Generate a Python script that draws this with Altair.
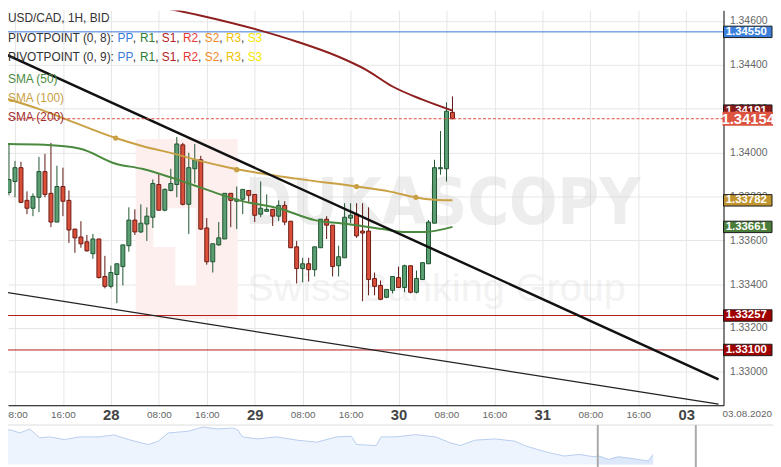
import altair as alt
import pandas as pd

FONT = "Liberation Sans"

# ---------------- candles (hourly, hour index: 24 = 28 Jul 00:00, weekend skipped) -------------
hours = list(range(6, 82))
opens = [1.33881, 1.33818, 1.33868, 1.33931, 1.33782, 1.33746, 1.33796, 1.33913, 1.33814, 1.33683,
         1.33845, 1.33782, 1.33651, 1.33615, 1.33593, 1.33539, 1.33606, 1.33435, 1.33390, 1.33444,
         1.33480, 1.33575, 1.33692, 1.33638, 1.33674, 1.33705, 1.33854, 1.33737, 1.33827, 1.33854,
         1.34035, 1.33764, 1.33926, 1.33967, 1.33656, 1.33502, 1.33579, 1.33606, 1.33814, 1.33778,
         1.33787, 1.33827, 1.33809, 1.33719, 1.33732, 1.33741, 1.33710, 1.33759, 1.33687, 1.33570,
         1.33471, 1.33493, 1.33466, 1.33566, 1.33696, 1.33669, 1.33484, 1.33520, 1.33701, 1.33719,
         1.33642, 1.33642, 1.33426, 1.33394, 1.33340, 1.33372, 1.33430, 1.33385, 1.33484, 1.33363,
         1.33421, 1.33493, 1.33678, 1.33926, 1.33926, 1.34183]
highs = [1.33890, 1.34039, 1.33962, 1.33958, 1.33823, 1.33814, 1.33980, 1.33994, 1.34044, 1.33940,
         1.33931, 1.33827, 1.33651, 1.33687, 1.33624, 1.33629, 1.33606, 1.33529, 1.33484, 1.33493,
         1.33579, 1.33750, 1.33741, 1.33764, 1.33750, 1.33877, 1.33904, 1.33836, 1.33926, 1.34071,
         1.34044, 1.33999, 1.34039, 1.33985, 1.33701, 1.33584, 1.33683, 1.33814, 1.33814, 1.33845,
         1.33832, 1.33827, 1.33809, 1.33868, 1.33809, 1.33741, 1.33782, 1.33778, 1.33687, 1.33597,
         1.33520, 1.33520, 1.33570, 1.33696, 1.33710, 1.33669, 1.33575, 1.33769, 1.33769, 1.33769,
         1.33769, 1.33750, 1.33453, 1.33417, 1.33376, 1.33435, 1.33480, 1.33489, 1.33484, 1.33462,
         1.33498, 1.33692, 1.33967, 1.34098, 1.34229, 1.34256]
lows = [1.33809, 1.33805, 1.33796, 1.33769, 1.33719, 1.33710, 1.33728, 1.33796, 1.33660, 1.33683,
        1.33710, 1.33588, 1.33543, 1.33566, 1.33548, 1.33516, 1.33426, 1.33381, 1.33381, 1.33313,
        1.33394, 1.33548, 1.33624, 1.33633, 1.33597, 1.33656, 1.33737, 1.33732, 1.33823, 1.33796,
        1.33759, 1.33629, 1.33859, 1.33647, 1.33489, 1.33453, 1.33575, 1.33606, 1.33660, 1.33651,
        1.33719, 1.33769, 1.33683, 1.33705, 1.33732, 1.33665, 1.33687, 1.33669, 1.33566, 1.33403,
        1.33408, 1.33412, 1.33435, 1.33566, 1.33606, 1.33435, 1.33435, 1.33520, 1.33678, 1.33611,
        1.33322, 1.33349, 1.33349, 1.33327, 1.33336, 1.33358, 1.33385, 1.33363, 1.33358, 1.33358,
        1.33421, 1.33493, 1.33678, 1.33899, 1.33868, 1.34152]
closes = [1.33818, 1.33877, 1.33931, 1.33773, 1.33746, 1.33800, 1.33913, 1.33809, 1.33683, 1.33845,
          1.33778, 1.33647, 1.33611, 1.33584, 1.33552, 1.33606, 1.33430, 1.33390, 1.33453, 1.33493,
          1.33579, 1.33692, 1.33638, 1.33678, 1.33710, 1.33859, 1.33737, 1.33832, 1.33859, 1.34039,
          1.33764, 1.33931, 1.33967, 1.33651, 1.33502, 1.33584, 1.33611, 1.33814, 1.33782, 1.33787,
          1.33832, 1.33805, 1.33714, 1.33746, 1.33741, 1.33710, 1.33759, 1.33683, 1.33566, 1.33471,
          1.33493, 1.33466, 1.33570, 1.33696, 1.33669, 1.33480, 1.33525, 1.33705, 1.33714, 1.33620,
          1.33633, 1.33421, 1.33390, 1.33331, 1.33376, 1.33435, 1.33385, 1.33484, 1.33363, 1.33426,
          1.33498, 1.33683, 1.33931, 1.33931, 1.34188, 1.34154]

# ---------------- moving averages ----------------
sma50_t = [6.4, 12.9, 18.9, 24.8, 29.2, 34.6, 38.9, 42.7, 45.4, 52.0, 58.0, 63.4, 69.4, 72.7, 76.4, 81.0]
sma50_v = [1.34039, 1.34035, 1.34017, 1.33949, 1.33926, 1.33881, 1.33841, 1.33805, 1.33782, 1.33746,
           1.33692, 1.33674, 1.33651, 1.33638, 1.33638, 1.33661]
sma100_t = [6.4, 11.7, 16.1, 24.8, 29.2, 34.6, 38.9, 43.8, 54.9, 65.0, 70.4, 74.8, 76.9, 81.0]
sma100_v = [1.34247, 1.34201, 1.34156, 1.34066, 1.34030, 1.33994, 1.33962, 1.33931, 1.33881, 1.33845,
            1.33823, 1.33796, 1.33787, 1.33782]
sma100_dot_t = [24.8, 45.0, 65.0, 74.9]
sma100_dot_v = [1.34066, 1.33922, 1.33845, 1.33796]
sma200_t = [21.0, 28.0, 38.9, 48.7, 55.2, 61.7, 66.6, 71.0, 75.9, 81.0]
sma200_v = [1.34720, 1.34684, 1.34625, 1.34558, 1.34504, 1.34440, 1.34377, 1.34301, 1.34242, 1.34191]

# ---------------- trend lines ----------------
trend_thick_t = [6.36, 125.4]
trend_thick_v = [1.34449, 1.32966]
trend_thin_t = [6.36, 125.4]
trend_thin_v = [1.33363, 1.32853]

# ---------------- horizontal levels ----------------
level_vals = [1.34550, 1.33257, 1.33100]
level_cols = ["#3b78d8", "#b51a1a", "#b51a1a"]
current_price = 1.34154

# ---------------- right-side price tags ----------------
tag_vals = [1.34550, 1.34191, 1.33782, 1.33661, 1.33257, 1.33100]
tag_text = ["1.34550", "1.34191", "1.33782", "1.33661", "1.33257", "1.33100"]
tag_fill = ["#3b7fdb", "#8b1a1a", "#c0952f", "#4a7d3a", "#a00000", "#a00000"]

# ---------------- axis ticks ----------------
x_ticks = [8, 16, 24, 32, 40, 48, 56, 64, 72, 80, 88, 96, 104, 112, 120]
day_ticks = [24, 48, 72, 96, 120]
day_labels = ["28", "29", "30", "31", "03"]
y_ticks = [1.330, 1.332, 1.334, 1.336, 1.338, 1.340, 1.342, 1.344, 1.346]

# ---------------- navigator ----------------
nav_day = [0, 0.38, 0.77, 1.15, 1.54, 1.92, 2.5, 3.08, 3.85, 4.42, 5.0, 5.58, 5.77, 6.15, 6.54, 7.31,
           7.88, 8.46, 9.04, 9.23, 9.42, 10.0, 10.77, 11.54, 12.31, 13.08, 13.65, 13.85, 14.62, 14.81,
           15.38, 16.15, 16.92, 17.5, 17.88, 18.46, 19.23, 20.0, 20.38, 20.96, 21.35, 21.92, 22.5,
           23.08, 23.27, 23.65, 24.04, 24.62, 25.19, 25.38]
nav_val = [1.3420, 1.34324, 1.3420, 1.3435, 1.34013, 1.3405, 1.33949, 1.3405, 1.3405, 1.34125,
           1.33949, 1.33799, 1.33761, 1.33889, 1.3420, 1.34264, 1.34425, 1.3435, 1.34388, 1.34324,
           1.3405, 1.33975, 1.3405, 1.33926, 1.33851, 1.3405, 1.34076, 1.33761, 1.33724, 1.3405,
           1.3405, 1.34136, 1.3405, 1.33825, 1.33724, 1.33926, 1.33975, 1.33889, 1.33724, 1.33551,
           1.3345, 1.33326, 1.33386, 1.333, 1.33326, 1.33199, 1.333, 1.33225, 1.33139, 1.33386]
nav_sel = [23.23, 27.04]

# =====================================================================
W, H = 723, 399
xscale = alt.Scale(domain=[7.66, 125.4], nice=False, zero=False)
yscale = alt.Scale(domain=[1.32848, 1.34648], nice=False, zero=False)

expr = "datum.value % 24 == 8 ? '08:00' : datum.value % 24 == 16 ? '16:00' : "
for d, lab in zip(day_ticks, day_labels):
    expr += f"datum.value == {d} ? '{lab}' : "
expr += "''"

xaxis = alt.Axis(values=x_ticks, labelExpr=expr, title=None, grid=True, gridColor="#e6e6e6",
                 domainColor="#000000", domainWidth=1, ticks=False, tickSize=0,
                 labelColor={"condition": {"test": "datum.value % 24 == 0", "value": "#444444"}, "value": "#666666"},
                 labelFontSize={"condition": {"test": "datum.value % 24 == 0", "value": 15}, "value": 10},
                 labelFontWeight={"condition": {"test": "datum.value % 24 == 0", "value": "bold"}, "value": "normal"},
                 labelBaseline="middle", labelPadding=9, labelFlush=False, labelOverlap=False,
                 labelFont=FONT)
yaxis = alt.Axis(orient="right", values=y_ticks, format=".5f", title=None, grid=True,
                 gridColor="#e6e6e6", domainColor="#000000", ticks=False, tickSize=0,
                 labelPadding=6, labelColor="#666666", labelFontSize=10.5, labelFont=FONT,
                 labelOverlap=False)


def X(f):
    return alt.X(f"{f}:Q", scale=xscale, axis=xaxis)


def Y(f):
    return alt.Y(f"{f}:Q", scale=yscale, axis=yaxis)


def one():
    return pd.DataFrame({"a": [0]})


def txt(s, x, y, color, size=12, weight="normal", align="left", baseline="middle", font=FONT, opacity=1.0):
    return alt.Chart(pd.DataFrame({"s": [s]})).mark_text(
        align=align, baseline=baseline, fontSize=size, fontWeight=weight, color=color,
        font=font, opacity=opacity
    ).encode(x=alt.value(x), y=alt.value(y), text="s:N")


def box(x1, x2, y1, y2, color):
    return alt.Chart(one()).mark_rect(color=color).encode(
        x=alt.value(x1), x2=alt.value(x2), y=alt.value(y1), y2=alt.value(y2))


layers = []

# watermark
layers.append(box(129, 232, 130, 312, "#fcefee"))
layers.append(box(147, 190, 200, 239, "#ffffff"))
layers.append(box(169, 190, 239, 278, "#ffffff"))
layers.append(txt("DUKASCOPY", 439, 216, "#d4d4d4", size=64, weight="bold", align="center",
                  baseline="alphabetic", font="Liberation Sans Narrow, DejaVu Sans Condensed", opacity=0.4))
layers.append(txt("Swiss Banking Group", 433, 294, "#d8d8d8", size=40, align="center",
                  baseline="alphabetic", opacity=0.3))

# horizontal levels
lev = pd.DataFrame({"p": level_vals, "col": level_cols})
layers.append(alt.Chart(lev).mark_rule(strokeWidth=1).encode(
    y=Y("p"), color=alt.Color("col:N", scale=None)))

# candles
cdf = pd.DataFrame({"t": hours, "o": opens, "h": highs, "l": lows, "c": closes})
up = "datum.c >= datum.o"
layers.append(alt.Chart(cdf).mark_rule(strokeWidth=1, clip=True).encode(
    x=X("t"), y=Y("l"), y2="h:Q",
    color=alt.condition(up, alt.value("#1f5530"), alt.value("#5e1410"))))
layers.append(alt.Chart(cdf).mark_bar(size=4, strokeWidth=1, clip=True).encode(
    x=X("t"), y=Y("o"), y2="c:Q",
    fill=alt.condition(up, alt.value("#5b9e74"), alt.value("#d94f3a")),
    stroke=alt.condition(up, alt.value("#1f5530"), alt.value("#6e1a12"))))

# moving averages
s50 = pd.DataFrame({"t": sma50_t, "p": sma50_v})
s100 = pd.DataFrame({"t": sma100_t, "p": sma100_v})
s100d = pd.DataFrame({"t": sma100_dot_t, "p": sma100_dot_v})
s200 = pd.DataFrame({"t": sma200_t, "p": sma200_v})
layers.append(alt.Chart(s50).mark_line(color="#4a8a3e", strokeWidth=2, interpolate="monotone", clip=True)
              .encode(x=X("t"), y=Y("p")))
layers.append(alt.Chart(s100).mark_line(color="#c9a043", strokeWidth=2, interpolate="monotone", clip=True)
              .encode(x=X("t"), y=Y("p")))
layers.append(alt.Chart(s100d).mark_point(color="#c9a043", filled=True, size=28, opacity=1, clip=True)
              .encode(x=X("t"), y=Y("p")))
layers.append(alt.Chart(s200).mark_line(color="#8e1f1f", strokeWidth=2, interpolate="monotone", clip=True)
              .encode(x=X("t"), y=Y("p")))

# trend lines
tk = pd.DataFrame({"t": trend_thick_t, "p": trend_thick_v})
tn = pd.DataFrame({"t": trend_thin_t, "p": trend_thin_v})
layers.append(alt.Chart(tk).mark_line(color="#111111", strokeWidth=2.5, clip=True).encode(x=X("t"), y=Y("p")))
layers.append(alt.Chart(tn).mark_line(color="#222222", strokeWidth=1.2, clip=True).encode(x=X("t"), y=Y("p")))

# current price dashed line
layers.append(alt.Chart(pd.DataFrame({"p": [current_price]})).mark_rule(
    color="#e04a3a", strokeWidth=1, strokeDash=[3, 2]).encode(y=Y("p")))

# price tags on the right
HALF = 0.00026
tags = pd.DataFrame({"p": tag_vals, "s": tag_text, "f": tag_fill})
tags["hi"] = tags["p"] + HALF
tags["lo"] = tags["p"] - HALF
layers.append(alt.Chart(tags).mark_rect(stroke="#1a1a1a", strokeWidth=1).encode(
    x=alt.value(723), x2=alt.value(772), y=Y("hi"), y2="lo:Q", fill=alt.Color("f:N", scale=None)))
layers.append(alt.Chart(tags).mark_text(color="white", fontWeight="bold", fontSize=11.5, font=FONT,
                                         align="center", baseline="middle").encode(
    x=alt.value(746), y=Y("p"), text="s:N"))
cur = pd.DataFrame({"p": [current_price], "s": [f"{current_price:.5f}"]})
cur["hi"] = cur["p"] + 0.00032
cur["lo"] = cur["p"] - 0.00032
layers.append(alt.Chart(cur).mark_rect(color="#dc5440").encode(
    x=alt.value(722), x2=alt.value(773), y=Y("hi"), y2="lo:Q"))
layers.append(alt.Chart(cur).mark_text(color="white", fontWeight="bold", fontSize=15, font=FONT,
                                        align="center", baseline="middle").encode(
    x=alt.value(748), y=Y("p"), text="s:N"))

# date under the right end of the axis
layers.append(txt("03.08.2020", 747, 408, "#666666", size=10, align="center"))

# legend text (top-left)
layers.append(txt("USD/CAD, 1H, BID", 0, 8, "#333333"))
piv_parts = [("PP", "#3b7dd8"), ("R1", "#2e7d32"), ("S1", "#b22222"), ("R2", "#e53935"),
             ("S2", "#f08a24"), ("R3", "#f0c000"), ("S3", "#f5e600")]
piv_x = [110.7, 133.4, 155.4, 176.8, 198.8, 220.2, 242.2]
for yy, lbl in [(28, "PIVOTPOINT (0, 8): "), (47, "PIVOTPOINT (0, 9): ")]:
    layers.append(txt(lbl, 0, yy, "#333333"))
    for i, ((name, col), px) in enumerate(zip(piv_parts, piv_x)):
        layers.append(txt(name, px, yy, col))
        if i < len(piv_parts) - 1:
            layers.append(txt(",", px + 15.3 if name[0] == "R" or name == "PP" else px + 14.7, yy, "#333333"))
layers.append(txt("SMA (50)", 0, 69, "#4a8a3e"))
layers.append(txt("SMA (100)", 0, 88.5, "#c9a043"))
layers.append(txt("SMA (200)", 0, 108, "#a03030"))

main = alt.layer(*layers)

# ---------------- navigator (own scales, drawn below the axis) ----------------
nav = pd.DataFrame({"d": nav_day, "v": nav_val})
nx = alt.X("d:Q", scale=alt.Scale(domain=[0, 30.04], range=[-8, 773], nice=False, zero=False), axis=None)
ny = alt.Y("v:Q", scale=alt.Scale(domain=[1.330, 1.345], range=[459, 419], nice=False, zero=False,
                                  clamp=True), axis=None)
nav_layers = [
    alt.Chart(nav).mark_area(color="#eef4fd").encode(x=nx, y=ny, y2=alt.datum(1.330)),
    alt.Chart(nav).transform_filter(f"datum.d >= {nav_sel[0]}").mark_area(color="#dde8fb")
    .encode(x=nx, y=ny, y2=alt.datum(1.330)),
    alt.Chart(nav).mark_line(color="#b7cdf0", strokeWidth=1).encode(x=nx, y=ny),
    alt.Chart(one()).mark_rule(color="#dddddd", strokeWidth=1).encode(
        x=alt.value(-8), x2=alt.value(773), y=alt.value(419)),
    alt.Chart(pd.DataFrame({"d": nav_sel})).mark_rule(color="#aaaaaa", strokeWidth=2).encode(
        x=nx, y=alt.value(419), y2=alt.value(462)),
]
navc = alt.layer(*nav_layers)

chart = alt.layer(main, navc).resolve_scale(x="independent", y="independent").properties(
    width=W, height=H,
    padding={"left": 0, "top": 0, "right": 50, "bottom": 60},
    autosize=alt.AutoSizeParams(type="none"),
    background="white",
).configure_view(strokeWidth=0)

chart.save("out.html", embed_options={"renderer": "svg", "actions": False})
